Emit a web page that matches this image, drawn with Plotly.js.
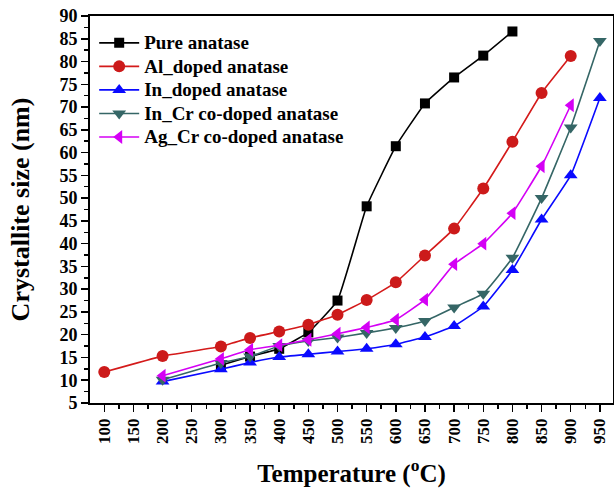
<!DOCTYPE html>
<html>
<head>
<meta charset="utf-8">
<script src="https://cdn.plot.ly/plotly-3.0.1.min.js"></script>
<style>
html,body{margin:0;padding:0;background:#fff;}
#chart{width:614px;height:488px;}
.legendtext{font-size:19px !important;}
</style>
</head>
<body>
<div id="chart"></div>
<script>
const seriesNames = ["Pure anatase", "Al_doped anatase", "In_doped anatase", "In_Cr co-doped anatase", "Ag_Cr co-doped anatase"];

const pureX = [300, 350, 400, 450, 500, 550, 600, 650, 700, 750, 800];
const pureY = [13.3, 15.2, 16.9, 20.5, 27.5, 48.2, 61.4, 70.8, 76.5, 81.3, 86.6];

const alX = [100, 200, 300, 350, 400, 450, 500, 550, 600, 650, 700, 750, 800, 850, 900];
const alY = [11.8, 15.3, 17.4, 19.3, 20.7, 22.2, 24.4, 27.6, 31.5, 37.4, 43.3, 52.1, 62.4, 73.1, 81.2];

const inX = [200, 300, 350, 400, 450, 500, 550, 600, 650, 700, 750, 800, 850, 900, 950];
const inY = [9.7, 12.4, 13.9, 15.1, 15.7, 16.3, 16.9, 17.9, 19.5, 21.9, 26.2, 34.2, 45.3, 55.0, 72.0];

const inCrX = [200, 300, 350, 400, 450, 500, 550, 600, 650, 700, 750, 800, 850, 900, 950];
const inCrY = [10.1, 13.8, 15.2, 17.5, 18.6, 19.4, 20.4, 21.5, 23.0, 26.0, 29.0, 36.9, 50.0, 65.5, 84.5];

const agCrX = [200, 300, 350, 400, 450, 500, 550, 600, 650, 700, 750, 800, 850, 900];
const agCrY = [11.0, 14.7, 16.7, 17.7, 18.9, 20.2, 21.6, 23.3, 27.7, 35.5, 40.0, 46.7, 57.0, 70.4];

const xTicks = [100, 150, 200, 250, 300, 350, 400, 450, 500, 550, 600, 650, 700, 750, 800, 850, 900, 950];
const yTicks = [5, 10, 15, 20, 25, 30, 35, 40, 45, 50, 55, 60, 65, 70, 75, 80, 85, 90];

const styles = [
  {color: "#000000", mcolor: "#000000", symbol: "square", size: 10},
  {color: "#d41a1a", mcolor: "#cc1a1a", symbol: "circle", size: 12},
  {color: "#0a0aff", mcolor: "#0a0aff", symbol: "triangle-up", size: 12},
  {color: "#356666", mcolor: "#356666", symbol: "triangle-down", size: 12},
  {color: "#d400f5", mcolor: "#d400f5", symbol: "triangle-left", size: 12}
];
const xs = [pureX, alX, inX, inCrX, agCrX];
const ys = [pureY, alY, inY, inCrY, agCrY];

const traces = seriesNames.map((n, i) => ({
  type: "scatter", mode: "lines+markers", name: n,
  x: xs[i], y: ys[i],
  line: {color: styles[i].color, width: 1.6, shape: "spline", smoothing: 0.3},
  marker: {symbol: styles[i].symbol, size: styles[i].size, color: styles[i].mcolor}
}));

const font = {family: "Liberation Serif, Times New Roman, serif", color: "#000"};

const layout = {
  width: 614, height: 488,
  margin: {l: 90, r: 1, t: 16, b: 85},
  paper_bgcolor: "#fff", plot_bgcolor: "#fff",
  showlegend: true,
  legend: {
    x: 0.008, y: 0.974, xanchor: "left", yanchor: "top",
    font: Object.assign({}, font, {size: 15.8, weight: "bold"}),
    bgcolor: "rgba(0,0,0,0)", tracegroupgap: 0, itemwidth: 40
  },
  xaxis: {
    range: [75.5, 972.5],
    tickvals: xTicks, ticktext: xTicks.map(String),
    tickangle: -90,
    ticks: "outside", ticklen: 7, tickwidth: 1.5, tickcolor: "#000",
    minor: {ticks: "outside", dtick: 25, tick0: 0, ticklen: 4, tickwidth: 1.5, tickcolor: "#000"},
    showline: true, linecolor: "#000", linewidth: 1.8, mirror: true,
    showgrid: false, zeroline: false,
    tickfont: Object.assign({}, font, {size: 17, weight: "bold"}),
    title: {text: "Temperature (<sup>o</sup>C)", font: Object.assign({}, font, {size: 25, weight: "bold"}), standoff: 22}
  },
  yaxis: {
    range: [5, 90],
    tickvals: yTicks, ticktext: yTicks.map(String),
    ticks: "outside", ticklen: 7, tickwidth: 1.5, tickcolor: "#000",
    minor: {ticks: "outside", dtick: 2.5, tick0: 0, ticklen: 4, tickwidth: 1.5, tickcolor: "#000"},
    showline: true, linecolor: "#000", linewidth: 1.8, mirror: true,
    showgrid: false, zeroline: false,
    tickfont: Object.assign({}, font, {size: 18, weight: "bold"}),
    title: {text: "Crystallite size (nm)", font: Object.assign({}, font, {size: 26, weight: "bold"}), standoff: 22}
  }
};

Plotly.newPlot("chart", traces, layout, {displayModeBar: false, staticPlot: true});
</script>
</body>
</html>
